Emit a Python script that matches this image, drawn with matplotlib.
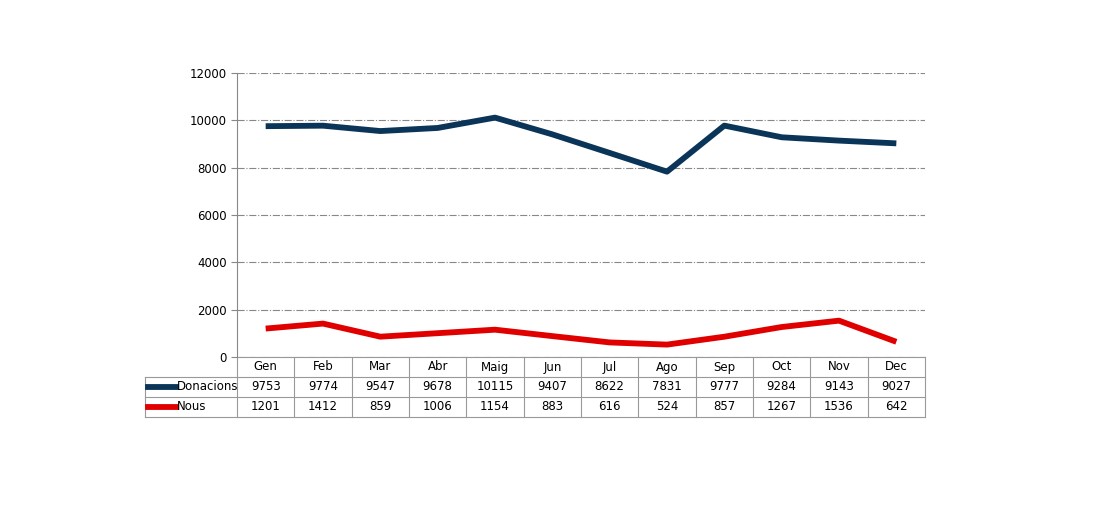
import numpy as np
import matplotlib.pyplot as plt
from matplotlib.lines import Line2D

months = ["Gen", "Feb", "Mar", "Abr", "Maig", "Jun", "Jul", "Ago", "Sep", "Oct", "Nov", "Dec"]
donacions = [9753, 9774, 9547, 9678, 10115, 9407, 8622, 7831, 9777, 9284, 9143, 9027]
nous = [1201, 1412, 859, 1006, 1154, 883, 616, 524, 857, 1267, 1536, 642]
series = [("Donacions", donacions, "#0b3558"), ("Nous", nous, "#e00000")]

fig = plt.figure(figsize=(11.2, 5.12), dpi=100)
ax = fig.add_axes([237/1120, 1 - 357/512, 688/1120, 284/512])

x = np.arange(len(months))
for name, vals, col in series:
    ax.plot(x, vals, color=col, lw=4.2, solid_capstyle="butt")

ax.set_xlim(-0.5, len(months) - 0.5)
ax.set_ylim(0, 12000)
ax.set_yticks(np.arange(0, 12001, 2000))
ax.tick_params(axis="y", labelsize=8.5, length=4, direction="out", color="#888888")
ax.set_xticks([])
ax.yaxis.grid(True, linestyle="-.", color="#888888", lw=0.8)
for s in ["top", "right", "bottom"]:
    ax.spines[s].set_visible(False)
ax.spines["left"].set_color("#888888")

# data table below the plot
rh = 20 / 284
lab_left = (145 - 237) / 688
kw = dict(transform=ax.transAxes, clip_on=False, color="#999999", lw=0.8)
n = len(months)
# horizontal lines
ax.plot([0, 1], [0, 0], **kw)
for r in range(1, 4):
    ax.plot([lab_left, 1], [-r * rh, -r * rh], **kw)
# vertical lines
for c in range(n + 1):
    ax.plot([c / n, c / n], [0, -3 * rh], **kw)
ax.plot([lab_left, lab_left], [-rh, -3 * rh], **kw)

for c, m in enumerate(months):
    ax.text((c + 0.5) / n, -0.5 * rh, m, transform=ax.transAxes,
            ha="center", va="center", fontsize=8.5)
for r, (name, vals, col) in enumerate(series, start=1):
    yc = -(r + 0.5) * rh
    ax.add_line(Line2D([lab_left + 0.005, lab_left + 0.045], [yc, yc],
                       transform=ax.transAxes, clip_on=False, color=col, lw=4.2))
    ax.text(lab_left + 0.046, yc, name, transform=ax.transAxes,
            ha="left", va="center", fontsize=8.5)
    for c, v in enumerate(vals):
        ax.text((c + 0.5) / n, yc, str(v), transform=ax.transAxes,
                ha="center", va="center", fontsize=8.5)

fig.savefig("out.png", dpi=100)
